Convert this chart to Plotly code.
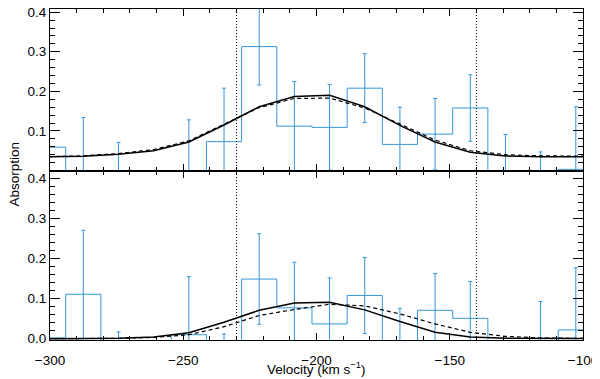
import plotly.graph_objects as go
from plotly.subplots import make_subplots

# bin centres (km/s), same for both panels
velocity = [-300.7, -287.5, -274.3, -261.1, -247.9, -234.7, -221.5, -208.3, -195.1,
            -181.9, -168.7, -155.5, -142.3, -129.1, -115.9, -102.7, -89.5]

# top panel
top_absorption = [0.059, -0.005, -0.005, -0.05, -0.01, 0.073, 0.313, 0.112, 0.109,
                  0.208, 0.066, 0.092, 0.158, -0.02, -0.03, 0.003, 0.003]
top_error = [0.0, 0.139, 0.076, 0.02, 0.138, 0.135, 0.097, 0.113, 0.108,
             0.087, 0.094, 0.09, 0.084, 0.111, 0.077, 0.158, 0.0]
top_model = [0.035, 0.036, 0.041, 0.05, 0.072, 0.115, 0.161, 0.187, 0.19,
             0.161, 0.114, 0.072, 0.046, 0.037, 0.035, 0.035, 0.035]
top_model_alt = [0.035, 0.037, 0.043, 0.053, 0.075, 0.118, 0.159, 0.182, 0.183,
                 0.158, 0.117, 0.077, 0.05, 0.04, 0.037, 0.036, 0.036]

# bottom panel
bot_absorption = [0.002, 0.111, -0.005, -0.03, 0.01, -0.01, 0.149, 0.077, 0.037,
                  0.108, -0.01, 0.071, 0.051, -0.04, -0.01, 0.022, 0.022]
bot_error = [0.0, 0.16, 0.022, 0.02, 0.145, 0.022, 0.113, 0.114, 0.115,
             0.095, 0.086, 0.092, 0.092, 0.02, 0.103, 0.155, 0.0]
bot_model = [0.0, 0.0, 0.001, 0.004, 0.015, 0.041, 0.071, 0.089, 0.091,
             0.072, 0.043, 0.016, 0.004, 0.001, 0.0, 0.0, 0.0]
bot_model_alt = [0.0, 0.0, 0.001, 0.003, 0.01, 0.03, 0.058, 0.073, 0.086,
                 0.082, 0.062, 0.037, 0.016, 0.006, 0.002, 0.001, 0.001]

ref_velocities = [-230, -140]

BLUE = "#3596d8"
FONT = "Liberation Sans, Arial, sans-serif"

# page body adds an 8px margin, so the figure is 8px smaller than the window
fig = make_subplots(rows=2, cols=1, shared_xaxes=True, vertical_spacing=0,
                    row_heights=[0.488, 0.512])

panels = [(top_absorption, top_error, top_model, top_model_alt),
          (bot_absorption, bot_error, bot_model, bot_model_alt)]
for r, (ab, er, mod, alt) in enumerate(panels, start=1):
    fig.add_trace(go.Scatter(x=velocity, y=ab, mode="lines", line=dict(color=BLUE, width=1, shape="hvh"),
                             error_y=dict(type="data", array=er, visible=True, color=BLUE, thickness=1, width=2),
                             showlegend=False), row=r, col=1)
    fig.add_trace(go.Scatter(x=velocity, y=alt, mode="lines", line=dict(color="black", width=1.2, dash="4px,3px"),
                             showlegend=False), row=r, col=1)
    fig.add_trace(go.Scatter(x=velocity, y=mod, mode="lines", line=dict(color="black", width=1.5),
                             showlegend=False), row=r, col=1)

for v in ref_velocities:
    fig.add_shape(type="line", xref="x", yref="paper", x0=v, x1=v, y0=0, y1=1,
                  line=dict(color="black", width=1, dash="1px,2px"))

xax = dict(range=[-300, -100], showline=True, linecolor="black", linewidth=1, mirror="allticks",
           ticks="inside", ticklen=7, tickcolor="black", tick0=0, dtick=50, showgrid=False, zeroline=False,
           automargin=False, ticklabeloverflow="allow",
           minor=dict(ticks="inside", ticklen=4, tickcolor="black", dtick=10, tick0=0, showgrid=False),
           tickfont=dict(size=13.5, color="black", family=FONT))
yax = dict(showline=True, linecolor="black", linewidth=1, mirror="allticks",
           ticks="inside", ticklen=10, tickcolor="black", showgrid=False, zeroline=False,
           tickformat=".1f", automargin=False, ticklabeloverflow="allow",
           minor=dict(ticks="inside", ticklen=5, tickcolor="black", dtick=0.02, tick0=0, showgrid=False),
           tickfont=dict(size=13.5, color="black", family=FONT))

fig.update_xaxes(**xax)
fig.update_xaxes(showticklabels=False, row=1, col=1)
fig.update_xaxes(ticklabelstandoff=8, row=2, col=1)
fig.update_yaxes(**yax)
fig.update_yaxes(range=[0, 0.408], tickvals=[0.1, 0.2, 0.3, 0.4], row=1, col=1)
fig.update_yaxes(range=[-0.0032, 0.42], tickvals=[0.0, 0.1, 0.2, 0.3, 0.4], row=2, col=1)

fig.add_annotation(text="Absorption", xref="paper", yref="paper", x=-0.0675, y=0.5,
                   textangle=-90, showarrow=False, xanchor="center", yanchor="middle",
                   font=dict(size=13.5, color="black", family=FONT))
fig.add_annotation(text="Velocity (km s<sup>\u22121</sup>)", xref="paper", yref="paper", x=0.5, y=-0.085,
                   showarrow=False, xanchor="center", yanchor="middle",
                   font=dict(size=13.5, color="black", family=FONT))

fig.update_layout(width=592, height=371, margin=dict(l=42, r=17, t=1, b=39),
                  plot_bgcolor="white", paper_bgcolor="white",
                  font=dict(family=FONT, color="black"))

fig.write_html("out.html")
